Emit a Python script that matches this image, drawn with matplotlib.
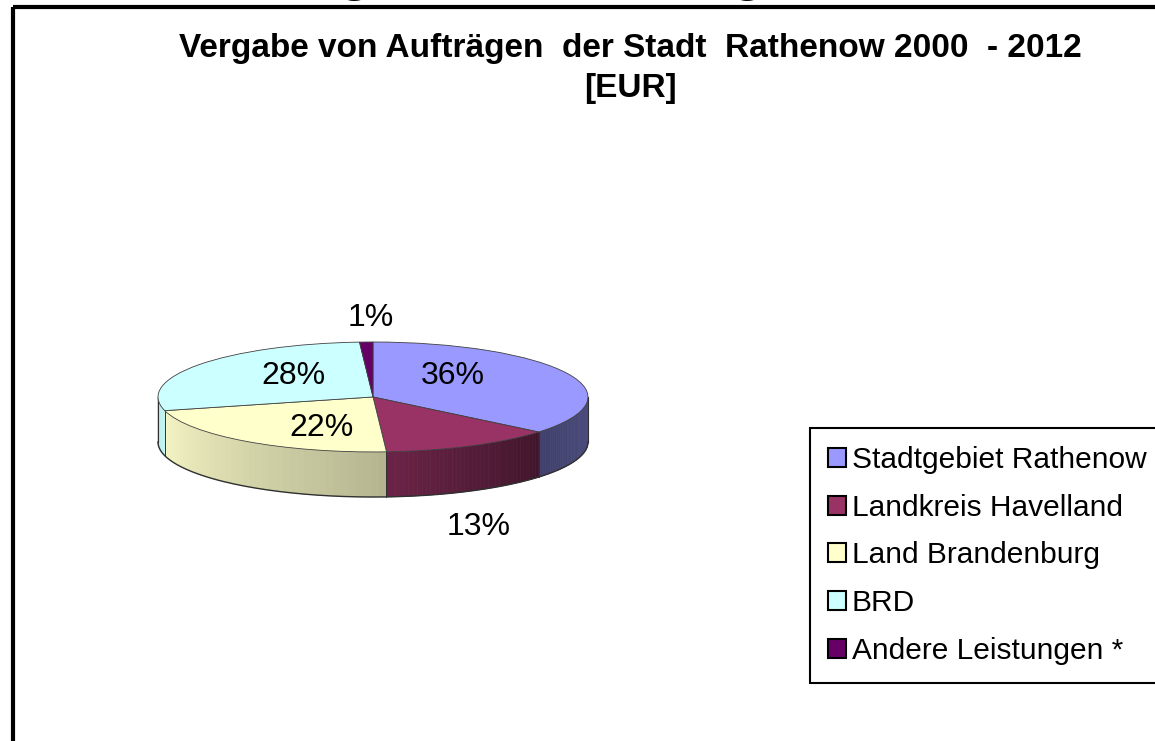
import numpy as np
import matplotlib
matplotlib.use('Agg')
import matplotlib.pyplot as plt
from matplotlib.patches import Polygon, Rectangle, Patch

plt.rcParams['font.family'] = ['Liberation Sans', 'DejaVu Sans']

# data
categories = ['Stadtgebiet Rathenow', 'Landkreis Havelland', 'Land Brandenburg',
              'BRD', 'Andere Leistungen *']
shares = [36, 13, 22, 28, 1]
colors = ['#9999FF', '#993366', '#FFFFCC', '#CCFFFF', '#660066']
title_lines = ['Vergabe von Aufträgen  der Stadt  Rathenow 2000  - 2012', '[EUR]']

# label placement inside the pie axes (x: -1..1, y: top ellipse -1..1)
label_pos = [(0.372, 0.38), (0.49, -2.36), (-0.24, -0.56), (-0.372, 0.38), (-0.01, 1.44)]
depth = 0.82

fig = plt.figure(figsize=(11.55, 7.41), dpi=100)

# background frame
bg = fig.add_axes([0, 0, 1, 1])
bg.set_xlim(0, 1155)
bg.set_ylim(741, 0)
bg.axis('off')
bg.add_patch(Rectangle((13, 7), 1300, 900, fill=False, lw=3, ec='black'))

# cut-off heading from the page above (only the descenders remain visible)
for gx in (355, 748):
    fig.text(gx / 1155, 1 + 10.5 / 741, 'g', fontsize=40, weight='bold',
             ha='center', va='baseline')

for line, base_y in zip(title_lines, (57, 97)):
    fig.text(630 / 1155, 1 - base_y / 741, line, ha='center', va='baseline',
             fontsize=24, weight='bold')

# pie
ax = fig.add_axes([158 / 1155, (741 - 497) / 741, 430 / 1155, 155 / 741])
wedges, _, autotexts = ax.pie(shares, colors=colors, startangle=90, counterclock=False,
                              autopct='%1.0f%%',
                              wedgeprops=dict(edgecolor='#404040', linewidth=0.6),
                              textprops=dict(fontsize=23))
ax.set_aspect('auto')
ax.set_xlim(-1, 1)
ax.set_ylim(-1 - depth, 1)
ax.axis('off')
for w in wedges:
    w.set_clip_on(False)
    w.set_zorder(3)
for t, p in zip(autotexts, label_pos):
    t.set_position(p)
    t.set_zorder(5)


def shade(a):
    return np.interp(a, [-180, -165, -90, -40, 0], [0.9, 0.96, 0.72, 0.42, 0.5])


cum = np.concatenate([[0], np.cumsum(shares)]) / sum(shares) * 360
for i, c in enumerate(colors):
    a_start, a_end = 90 - cum[i], 90 - cum[i + 1]
    lo, hi = max(a_end, -180), min(a_start, 0)
    if lo >= hi:
        continue
    base = np.array(matplotlib.colors.to_rgb(c))
    ts = np.linspace(lo, hi, 40)
    for t0, t1 in zip(ts[:-1], ts[1:]):
        r0, r1 = np.radians(t0), np.radians(t1)
        pts = [(np.cos(r0), np.sin(r0)), (np.cos(r1), np.sin(r1)),
               (np.cos(r1), np.sin(r1) - depth), (np.cos(r0), np.sin(r0) - depth)]
        col = np.clip(base * shade((t0 + t1) / 2), 0, 1)
        ax.add_patch(Polygon(pts, closed=True, fc=col, ec=col, lw=0.5, zorder=1, clip_on=False))
    for a in (a_start, a_end):
        if -180 < a < 0:
            r = np.radians(a)
            ax.plot([np.cos(r)] * 2, [np.sin(r), np.sin(r) - depth], color='#303030',
                    lw=0.6, zorder=2, clip_on=False)

arc = np.radians(np.linspace(-180, 0, 200))
ax.plot(np.cos(arc), np.sin(arc) - depth, color='#303030', lw=1, zorder=2, clip_on=False)
ax.plot([-1, -1], [0, -depth], color='#303030', lw=0.8, zorder=2, clip_on=False)
ax.plot([1, 1], [0, -depth], color='#303030', lw=0.8, zorder=2, clip_on=False)

# legend
handles = [Patch(facecolor=c, edgecolor='black', lw=1.5) for c in colors]
leg = bg.legend(handles, categories, loc='upper left',
                bbox_to_anchor=(810 / 1155, 1 - 428 / 741), bbox_transform=fig.transFigure,
                frameon=True, fancybox=False, edgecolor='black', framealpha=1,
                prop={'size': 21.5}, handlelength=0.6, handleheight=0.6,
                handletextpad=0.2, labelspacing=0.66, borderpad=0.6, borderaxespad=0)
leg.get_frame().set_linewidth(1.5)

fig.savefig('out.png', dpi=100)
